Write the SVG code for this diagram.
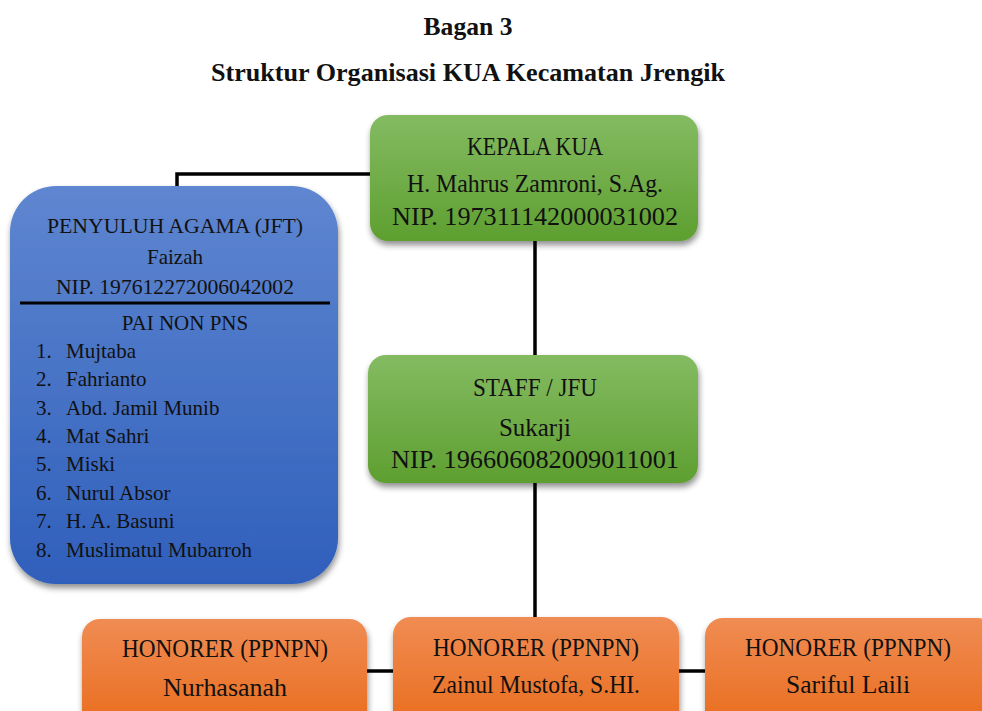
<svg xmlns="http://www.w3.org/2000/svg" width="982" height="711" viewBox="0 0 982 711">
<defs>
<linearGradient id="gGreen" x1="0" y1="0" x2="0" y2="1"><stop offset="0" stop-color="#84bb62"/><stop offset="1" stop-color="#5e9f30"/></linearGradient>
<linearGradient id="gBlue" x1="0" y1="0" x2="0" y2="1"><stop offset="0" stop-color="#5f86d0"/><stop offset="1" stop-color="#2f5fbb"/></linearGradient>
<linearGradient id="gOrange" x1="0" y1="0" x2="0" y2="1"><stop offset="0" stop-color="#f08c54"/><stop offset="1" stop-color="#e96c1c"/></linearGradient>
<filter id="sh" x="-10%" y="-10%" width="125%" height="130%"><feGaussianBlur in="SourceAlpha" stdDeviation="3"/><feOffset dx="1" dy="4"/><feComponentTransfer><feFuncA type="linear" slope="0.45"/></feComponentTransfer><feMerge><feMergeNode/><feMergeNode in="SourceGraphic"/></feMerge></filter>
</defs>
<style>
text{font-family:"Liberation Serif","Times New Roman",serif;fill:#111;}
.t{font-size:25px;text-anchor:middle;font-weight:bold;}
.b{font-size:25px;text-anchor:middle;}
.l{font-size:21px;}
.c{font-size:21px;text-anchor:middle;}
.con{stroke:#000;stroke-width:3.5;fill:none;}
</style>
<rect width="982" height="711" fill="#fff"/>
<text class="t" x="468" y="35" textLength="89" lengthAdjust="spacingAndGlyphs">Bagan 3</text>
<text class="t" x="468" y="81" textLength="514" lengthAdjust="spacingAndGlyphs">Struktur Organisasi KUA Kecamatan Jrengik</text>
<g id="connectors">
<polyline class="con" points="372,174 177,174 177,190"/>
<line class="con" x1="535" y1="240" x2="535" y2="357"/>
<line class="con" x1="535" y1="482" x2="535" y2="620"/>
<line class="con" x1="365" y1="671" x2="395" y2="671"/>
<line class="con" x1="677" y1="671" x2="707" y2="671"/>
</g>
<g id="kepala">
<rect x="370" y="115" width="328" height="126" rx="18" fill="url(#gGreen)" filter="url(#sh)"/>
<text class="b" x="535" y="155" textLength="136" lengthAdjust="spacingAndGlyphs">KEPALA KUA</text>
<text class="b" x="535" y="192" textLength="256" lengthAdjust="spacingAndGlyphs">H. Mahrus Zamroni, S.Ag.</text>
<text class="b" x="535" y="225" textLength="286" lengthAdjust="spacingAndGlyphs">NIP. 197311142000031002</text>
</g>
<g id="penyuluh">
<rect x="10" y="186" width="328" height="398" rx="46" fill="url(#gBlue)" filter="url(#sh)"/>
<text class="c" x="175" y="233" textLength="256" lengthAdjust="spacingAndGlyphs">PENYULUH AGAMA (JFT)</text>
<text class="c" x="175" y="264">Faizah</text>
<text class="c" x="175" y="294" textLength="238" lengthAdjust="spacingAndGlyphs">NIP. 197612272006042002</text>
<line x1="20" y1="303" x2="330" y2="303" stroke="#000" stroke-width="3"/>
<text class="c" x="185" y="330">PAI NON PNS</text>
<text class="l" x="36" y="358">1.</text><text class="l" x="66" y="358">Mujtaba</text>
<text class="l" x="36" y="386">2.</text><text class="l" x="66" y="386">Fahrianto</text>
<text class="l" x="36" y="415">3.</text><text class="l" x="66" y="415">Abd. Jamil Munib</text>
<text class="l" x="36" y="443">4.</text><text class="l" x="66" y="443">Mat Sahri</text>
<text class="l" x="36" y="471">5.</text><text class="l" x="66" y="471">Miski</text>
<text class="l" x="36" y="500">6.</text><text class="l" x="66" y="500">Nurul Absor</text>
<text class="l" x="36" y="528">7.</text><text class="l" x="66" y="528">H. A. Basuni</text>
<text class="l" x="36" y="557">8.</text><text class="l" x="66" y="557">Muslimatul Mubarroh</text>
</g>
<g id="staff">
<rect x="368" y="355" width="330" height="128" rx="18" fill="url(#gGreen)" filter="url(#sh)"/>
<text class="b" x="535" y="396" textLength="124" lengthAdjust="spacingAndGlyphs">STAFF / JFU</text>
<text class="b" x="535" y="436" textLength="72" lengthAdjust="spacingAndGlyphs">Sukarji</text>
<text class="b" x="535" y="468" textLength="288" lengthAdjust="spacingAndGlyphs">NIP. 196606082009011001</text>
</g>
<g id="honorer1">
<rect x="82" y="619" width="285" height="110" rx="18" fill="url(#gOrange)" filter="url(#sh)"/>
<text class="b" x="225" y="657" textLength="206" lengthAdjust="spacingAndGlyphs">HONORER (PPNPN)</text>
<text class="b" x="225" y="696" textLength="124" lengthAdjust="spacingAndGlyphs">Nurhasanah</text>
</g>
<g id="honorer2">
<rect x="393" y="617" width="286" height="112" rx="18" fill="url(#gOrange)" filter="url(#sh)"/>
<text class="b" x="536" y="656" textLength="206" lengthAdjust="spacingAndGlyphs">HONORER (PPNPN)</text>
<text class="b" x="536" y="693" textLength="208" lengthAdjust="spacingAndGlyphs">Zainul Mustofa, S.HI.</text>
</g>
<g id="honorer3">
<rect x="705" y="618" width="290" height="111" rx="18" fill="url(#gOrange)" filter="url(#sh)"/>
<text class="b" x="848" y="656" textLength="206" lengthAdjust="spacingAndGlyphs">HONORER (PPNPN)</text>
<text class="b" x="848" y="693" textLength="124" lengthAdjust="spacingAndGlyphs">Sariful Laili</text>
</g>
</svg>
